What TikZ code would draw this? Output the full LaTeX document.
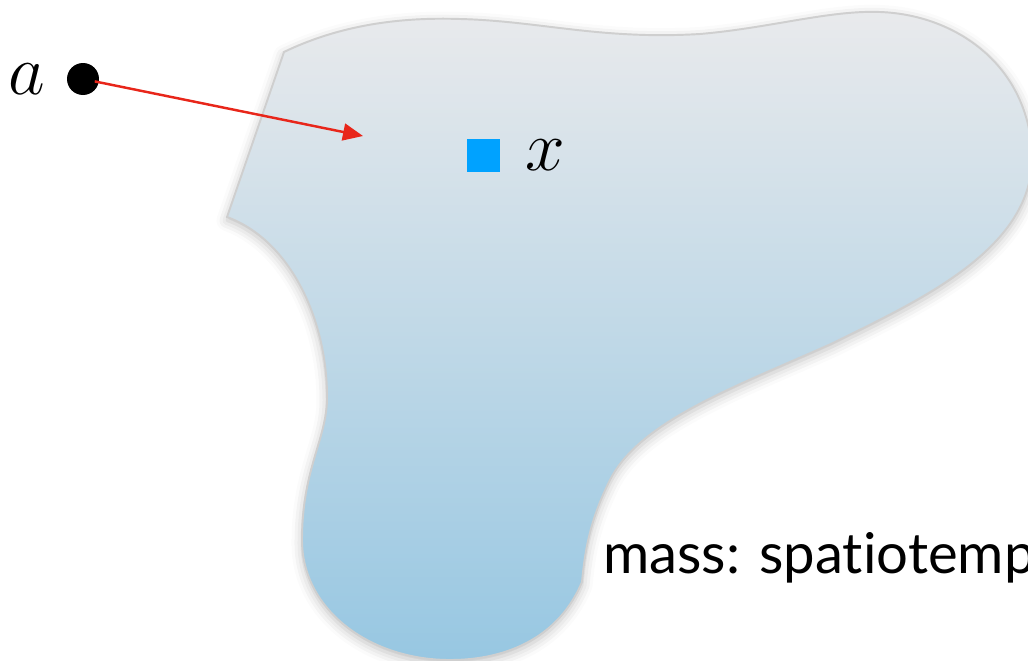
\documentclass[tikz,border=0pt]{standalone}
\usepackage{fontspec}
\usetikzlibrary{arrows.meta, positioning, shadows.blur}
\newfontfamily\captionfont[Ligatures=NoCommon]{Lato}
\newcommand{\bigsym}[1]{\scalebox{1.63}{\Huge$#1$}}
\definecolor{blobtop}{HTML}{E9EAEC}
\definecolor{blobbottom}{HTML}{97C7E2}
\definecolor{blobline}{HTML}{CFCFCF}
\definecolor{arrowred}{HTML}{E8261A}
\definecolor{pointblue}{HTML}{00A2FF}

\begin{document}
\begin{tikzpicture}[
            x=0.02cm, y=-0.02cm,
            blob/.style={draw=blobline, line width=1.1pt,
                         top color=blobtop, bottom color=blobbottom,
                         blur shadow={shadow xshift=0pt, shadow yshift=-2pt,
                                      shadow blur radius=6pt, shadow opacity=25}},
            point/.style={circle, fill=black, minimum size=0.64cm, inner sep=0pt},
            sample/.style={rectangle, fill=pointblue, minimum size=0.66cm, inner sep=0pt},
            lbl/.style={inner sep=0pt},
            arr/.style={-{Triangle[length=0.4cm, width=0.34cm]}, line width=1.4pt,
                        draw=arrowred}]

            \useasboundingbox (0,0) rectangle (1028,660);

            %% ── Region ────────────────────────────────────────────────────
            \draw[blob] (284,52)
                .. controls (340,25) and (400,17) .. (460,19)
                .. controls (540,21) and (600,40) .. (700,34)
                .. controls (770,28) and (830,10) .. (880,12)
                .. controls (960,15) and (1032,70) .. (1032,160)
                .. controls (1030,250) and (920,300) .. (833,343)
                .. controls (740,385) and (640,420) .. (610,480)
                .. controls (590,520) and (585,550) .. (582,582)
                .. controls (560,635) and (510,660) .. (450,660)
                .. controls (370,660) and (302,610) .. (302,540)
                .. controls (302,470) and (326,440) .. (327,400)
                .. controls (328,320) and (290,240) .. (227,217)
                -- cycle;

            %% ── Nodes ─────────────────────────────────────────────────────
            \node[point]                   (dot)    at (83,79) {};
            \node[lbl, left=0.42cm of dot] (alabel) {\bigsym{a}};
            \node[sample]                  (x)      at (483.5,155.5) {};
            \node[lbl, right=0.5cm of x]   (xlabel) {\bigsym{x}};
            \coordinate (tip) at (363,136);

            \node[anchor=base west, inner sep=0pt,
                  font=\captionfont\fontsize{32}{38}\selectfont]
                                           (mass)   at (603,573) {mass: spatiotemp};

            %% ── Arrow ─────────────────────────────────────────────────────
            \draw[arr, shorten <=0.24cm] (dot.center) -- (tip);

        \end{tikzpicture}
\end{document}
